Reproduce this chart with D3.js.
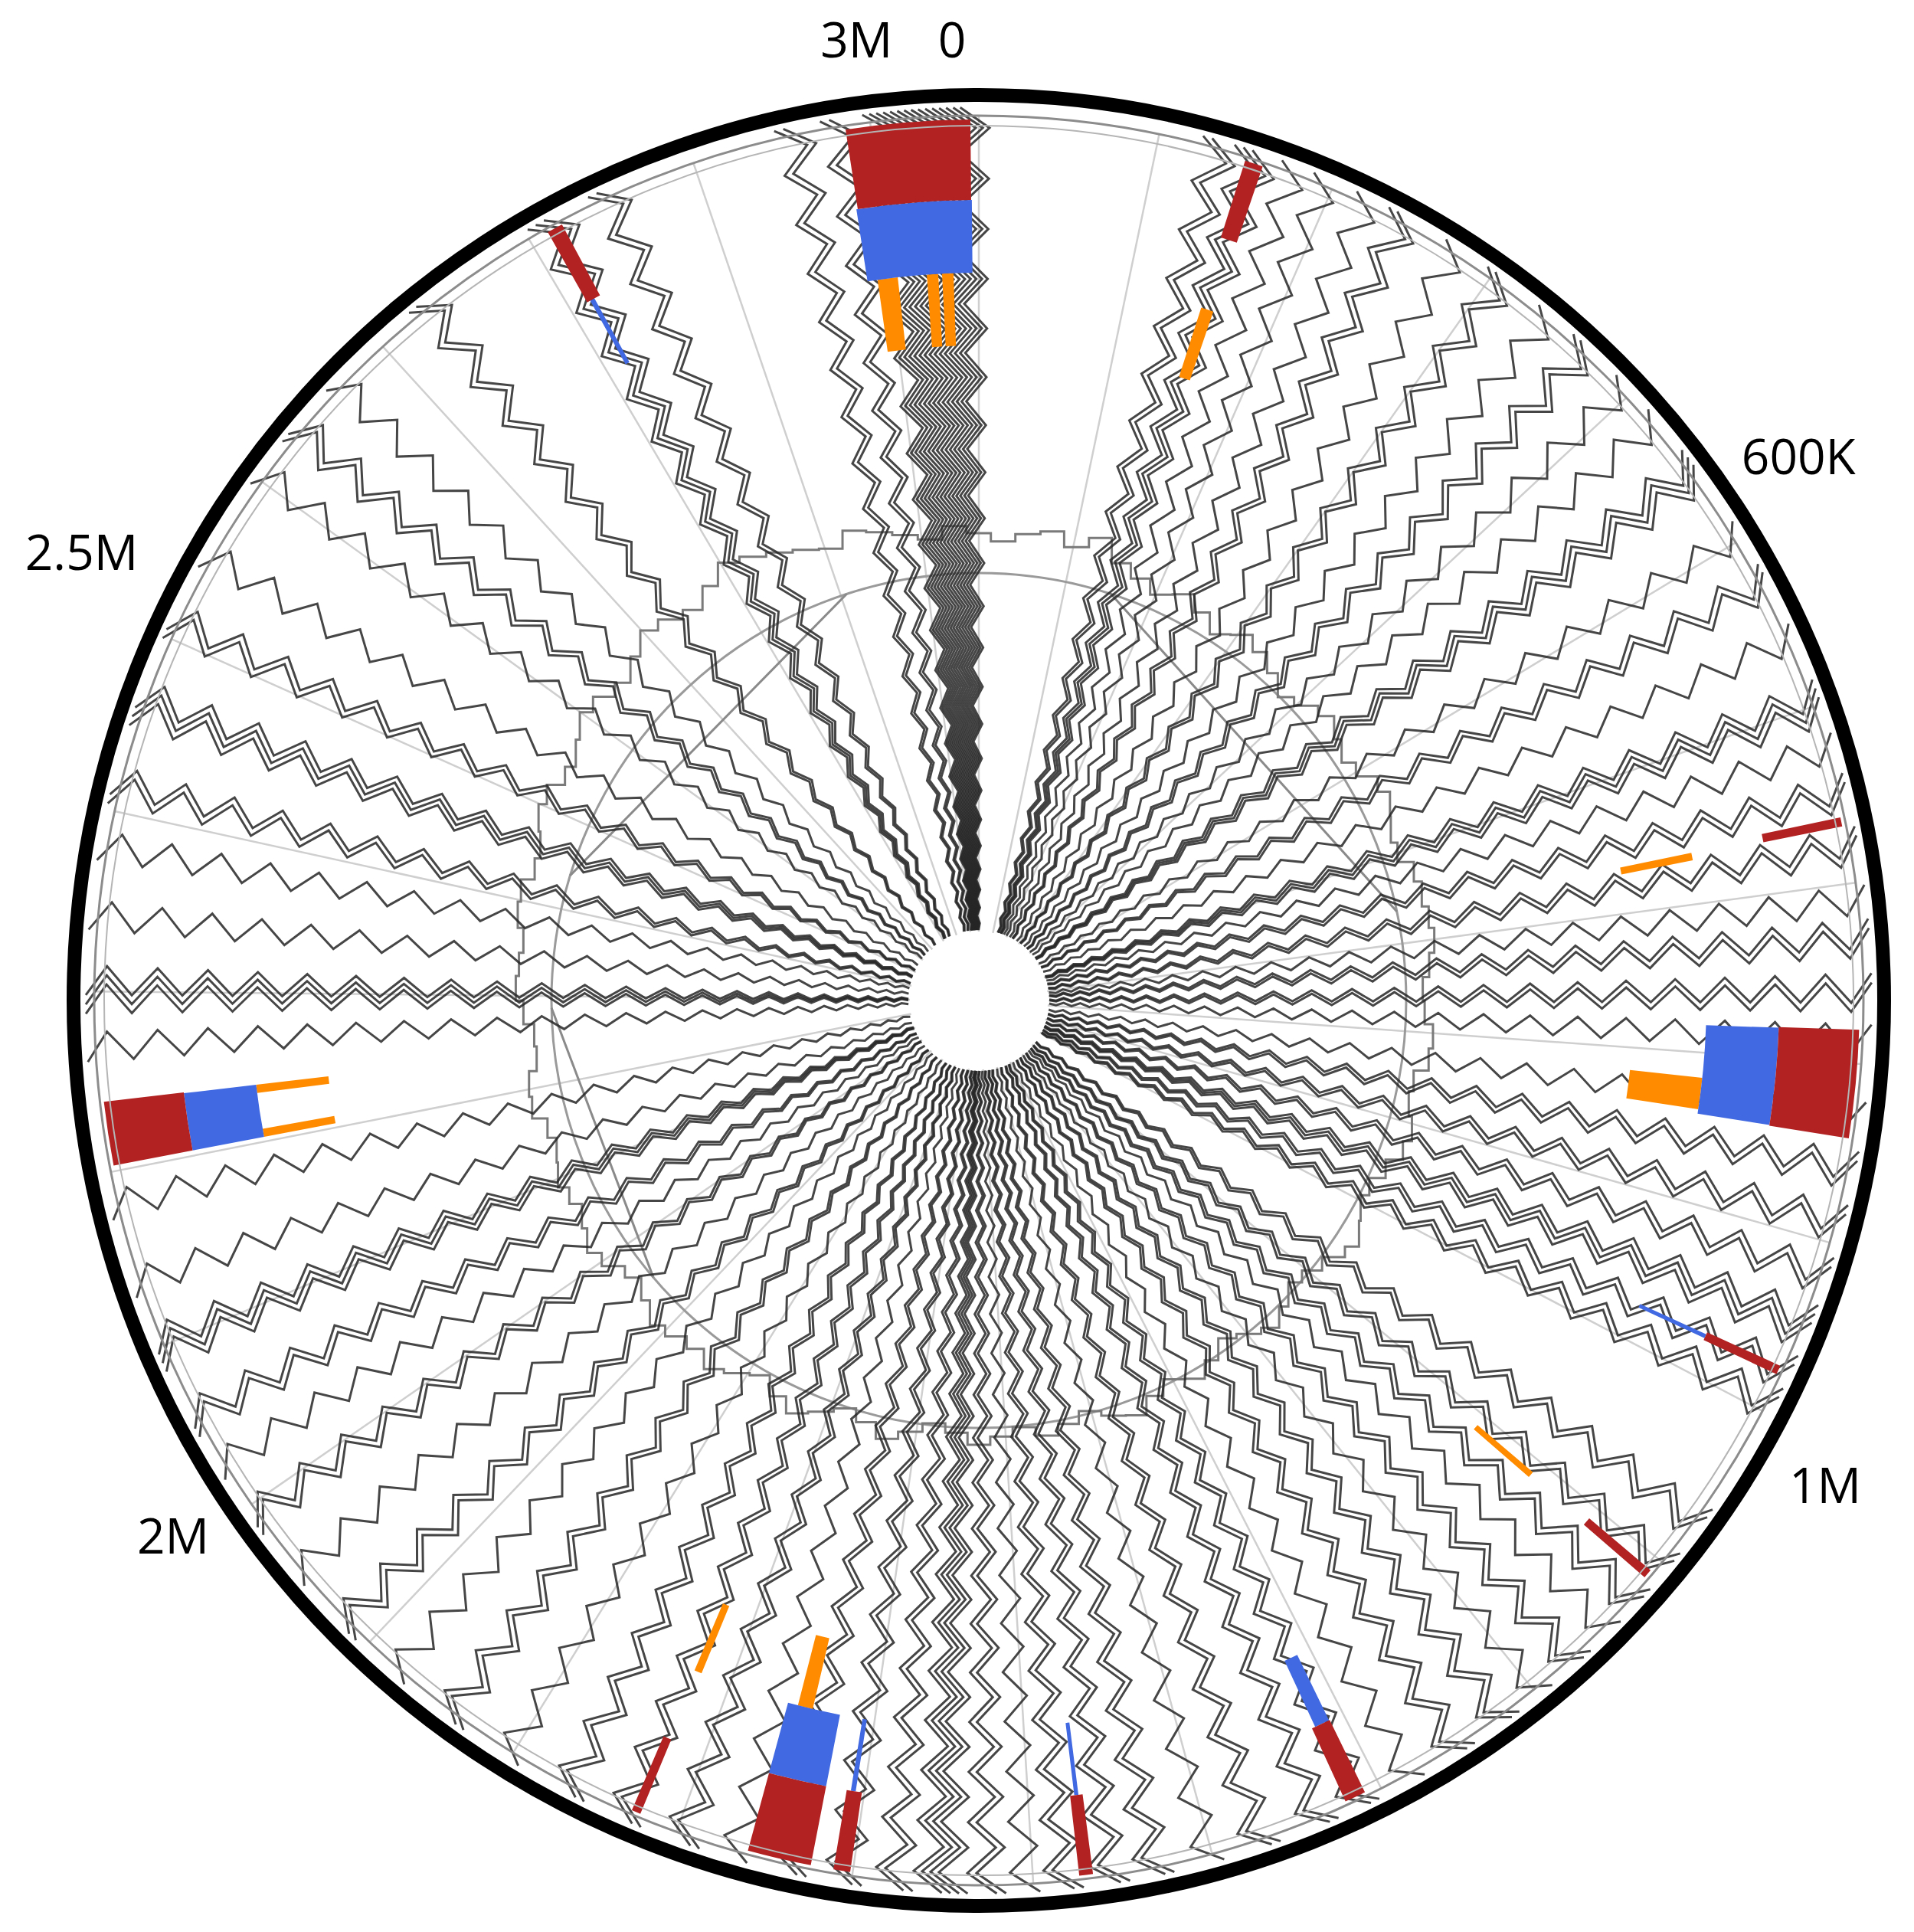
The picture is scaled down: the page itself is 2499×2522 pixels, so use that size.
<!DOCTYPE html>
<html>
<head>
<meta charset="utf-8">
<script src="https://cdn.jsdelivr.net/npm/d3@7"></script>
<style>
html, body { margin: 0; padding: 0; background: #ffffff; }
svg { display: block; }
</style>
</head>
<body>
<svg id="chart" width="2499" height="2522"></svg>
<script>
// ---------------- DATA (positions in kb around a 3.06 Mb circular genome) ----------------
const genomeLengthKb = 3060;

const tickLabels = ["0", "600K", "1M", "2M", "2.5M", "3M"];
const tickLabelPositionsKb = [-13.6, 479.4, 1018.0, 2010.0, 2521.0, 2998.4];

const gridTickKb = d3.range(0, 3001, 100);

// radial read-mapping lines (zig-zag tracks), position of each track in kb
const readLinePositionsKb = [
  3004.3, 3008.2, 3012.0, 3015.8, 3019.6, 3023.5, 3027.3, 3031.1, 3034.9, 3038.8,
  3042.6, 3046.4, 3050.2, 3054.1, 3057.9,
  2980.95, 2986.05, 2955.45, 2960.55,
  2847.5, 2852.6, 2810.1, 2815.2, 2820.3, 2731.05, 2736.15, 2669.0, 2632.45, 2637.55,
  2603.6, 2550.0, 2506.65, 2511.75, 2455.65, 2460.75, 2465.85, 2411.45, 2416.55, 2380.0,
  2341.8, 2295.85, 2300.95, 2306.05, 2269.5,
  2182.0, 2137.8, 2094.4, 2099.5, 2104.6, 2054.45, 2059.55, 2027.3, 1990.7, 1995.8,
  1955.0, 1914.2, 1919.3, 1878.5, 1837.7, 1842.8, 1802.0, 1761.2, 1766.3, 1727.2,
  1732.3, 1693.2, 1698.3, 1666.0, 1632.85, 1637.95, 1602.25, 1607.35, 1574.2, 1579.3,
  1544.2, 1548.9, 1553.6, 1558.3, 1523.2, 1528.3, 1504.5, 1480.7, 1485.8, 1455.2,
  1460.3, 1430.55, 1435.65, 1402.5, 1370.2, 1375.3, 1336.2, 1341.3, 1311.55, 1316.65,
  1283.5, 1251.2, 1256.3, 1221.45, 1226.55, 1198.5, 1170.45, 1175.55, 1147.5, 1123.7,
  1128.8, 1098.2, 1103.3, 1068.45, 1073.55,
  991.95, 997.05, 972.4, 977.5, 942.65, 947.75, 952.85, 915.45, 920.55, 885.7,
  890.8, 855.95, 861.05, 828.8, 786.3, 758.2, 763.3, 728.45, 733.55, 709.8,
  677.45, 682.55, 647.7, 652.8, 624.8, 594.15, 599.25, 604.35, 561.0, 524.45,
  529.55, 497.3, 449.65, 454.75, 459.85, 420.8, 395.3, 362.95, 368.05, 338.3,
  303.45, 308.55, 276.3, 240.55, 245.65, 221.0, 195.5, 176.8, 149.6, 154.7,
  159.8, 131.75, 136.85
];

// GC content (%) in consecutive windows
const gcWindowKb = 25.5;
const gcPercent = [
  35.5, 35.0, 35.6, 36.0, 35.25, 36.25, 35.0, 34.5, 34.0, 34.75,
  34.25, 33.5, 34.5, 34.25, 33.75, 33.0, 33.75, 34.5, 34.0, 33.5,
  34.25, 35.0, 34.5, 33.75, 34.25, 35.0, 34.5, 35.25, 34.75, 34.25,
  33.75, 34.5, 35.0, 34.25, 33.5, 34.25, 34.75, 34.0, 33.5, 33.0,
  33.75, 34.5, 33.5, 33.0, 32.5, 33.25, 33.75, 33.0, 32.25, 33.0,
  33.5, 32.75, 33.25, 34.0, 33.5, 32.75, 33.25, 33.75, 33.0, 33.5,
  34.0, 33.25, 32.75, 33.5, 34.25, 33.5, 33.0, 33.75, 34.5, 34.0,
  33.25, 34.0, 34.75, 34.25, 34.5, 35.0, 34.25, 33.75, 34.5, 35.25,
  34.75, 34.25, 35.0, 34.5, 34.0, 34.75, 35.25, 34.5, 33.75, 34.5,
  35.0, 35.5, 34.75, 35.25, 36.0, 35.5, 35.0, 35.75, 36.5, 36.0,
  35.5, 36.25, 37.0, 36.5, 36.0, 36.75, 37.5, 37.0, 36.5, 37.25,
  38.0, 37.5, 37.0, 36.5, 36.0, 36.75, 36.25, 35.75, 35.25, 36.0
];

// straight connector segments on the inner reference ring
const chordPairsKb = [[2439.5, 2907.0], [153.0, 663.0], [1951.6, 2286.5]];

// annotated features [start, end] in kb
const redFeaturesKb = [
  [2986.05, 3055.33], [149.6, 159.8], [2810.95, 2819.88], [663.0, 668.1],
  [781.15, 841.5], [973.25, 978.35], [1107.55, 1112.65], [1309.0, 1320.9],
  [1466.68, 1474.33], [1601.4, 1610.75], [1623.5, 1659.2], [1722.1, 1727.2],
  [2203.2, 2238.9]
];
const blueFeaturesKb = [
  [2985.2, 3055.75], [2813.08, 2816.05], [781.58, 841.08], [974.53, 977.08],
  [1309.43, 1318.78], [1469.23, 1471.78], [1605.23, 1608.2], [1623.5, 1659.2],
  [2203.2, 2238.48]
];
const orangeFeaturesKb = [
  [2992.0, 3005.6], [3025.15, 3032.8], [3035.35, 3043.0], [151.3, 159.8],
  [665.55, 670.65], [816.85, 838.1], [1108.4, 1112.65], [1642.2, 1652.4],
  [1720.4, 1725.5], [2232.95, 2238.48], [2203.2, 2208.73]
];

// ---------------- LAYOUT ----------------
const W = 2499, H = 2522, cx = 1278, cy = 1306;
const R = { hub: 90, inner: 558, gridOuter: 1155, gridOuter2: 1142, ring: 1182, zigStart: 92, zigEnd: 1166 };
const labelRadius = [1256, 1285, 1273, 1262, 1310, 1266];
const tracks = {
  red: [1045, 1150, "#B22222"],
  blue: [950, 1045, "#4169E1"],
  orange: [855, 950, "#FF8C00"]
};

const svg = d3.select("#chart");
svg.append("rect").attr("width", W).attr("height", H).attr("fill", "#ffffff");
const g = svg.append("g").attr("transform", `translate(${cx},${cy})`);

const angle = d3.scaleLinear().domain([0, genomeLengthKb]).range([0, 2 * Math.PI]);
const gcRadius = d3.scaleLinear().domain([30, 40]).range([500, 700]);
const px = (a, r) => r * Math.sin(a);
const py = (a, r) => -r * Math.cos(a);

// grid spokes
g.append("g").selectAll("line").data(gridTickKb).join("line")
  .attr("x1", d => px(angle(d), R.hub)).attr("y1", d => py(angle(d), R.hub))
  .attr("x2", d => px(angle(d), R.gridOuter)).attr("y2", d => py(angle(d), R.gridOuter))
  .attr("stroke", "#cfcfcf").attr("stroke-width", 2.5);

// inner reference ring
g.append("circle").attr("r", R.inner).attr("fill", "none").attr("stroke", "#9a9a9a").attr("stroke-width", 3);
g.append("g").selectAll("line").data(chordPairsKb).join("line")
  .attr("x1", d => px(angle(d[0]), R.inner)).attr("y1", d => py(angle(d[0]), R.inner))
  .attr("x2", d => px(angle(d[1]), R.inner)).attr("y2", d => py(angle(d[1]), R.inner))
  .attr("stroke", "#8a8a8a").attr("stroke-width", 3);

// GC content line
const gcPts = gcPercent.map((v, i) => [angle(i * gcWindowKb), gcRadius(v)]);
gcPts.push([angle(genomeLengthKb), gcRadius(gcPercent[0])]);
g.append("path")
  .attr("d", d3.lineRadial().angle(d => d[0]).radius(d => d[1]).curve(d3.curveStep)(gcPts))
  .attr("fill", "none").attr("stroke", "#7a7a7a").attr("stroke-width", 3);

// zig-zag read tracks
const zigRadii = [];
{ let r = R.zigStart; while (r < R.zigEnd) { zigRadii.push(r); r += 34 * (1 - Math.exp(-r / 300)); } zigRadii.push(R.zigEnd); }
const amp = 0.95 * Math.PI / 180;
const zigLine = d3.lineRadial().angle(d => d[0]).radius(d => d[1]);
g.append("g").selectAll("path").data(readLinePositionsKb).join("path")
  .attr("d", p => zigLine(zigRadii.map((rr, i) => [angle(p) + (i === 0 ? 0 : (i % 2 ? amp : -amp)), rr])))
  .attr("fill", "none").attr("stroke", "#262626").attr("stroke-opacity", 0.85)
  .attr("stroke-width", 3.0).attr("stroke-linejoin", "miter");

// feature tracks
function drawFeatures(data, track) {
  const [r0, r1, color] = track;
  const arc = d3.arc().innerRadius(r0).outerRadius(r1)
    .startAngle(d => angle(d[0])).endAngle(d => angle(d[1]));
  g.append("g").selectAll("path").data(data).join("path")
    .attr("d", arc).attr("fill", color);
}
drawFeatures(orangeFeaturesKb, tracks.orange);
drawFeatures(blueFeaturesKb, tracks.blue);
drawFeatures(redFeaturesKb, tracks.red);

// hub
g.append("circle").attr("r", R.hub).attr("fill", "#ffffff");

// outer rings
g.append("circle").attr("r", R.gridOuter2).attr("fill", "none").attr("stroke", "#b5b5b5").attr("stroke-width", 2);
g.append("circle").attr("r", R.gridOuter).attr("fill", "none").attr("stroke", "#8c8c8c").attr("stroke-width", 3);
g.append("circle").attr("r", R.ring).attr("fill", "none").attr("stroke", "#000000").attr("stroke-width", 18);

// labels
g.append("g").selectAll("text").data(tickLabels).join("text")
  .attr("x", (d, i) => px(angle(tickLabelPositionsKb[i]), labelRadius[i]))
  .attr("y", (d, i) => py(angle(tickLabelPositionsKb[i]), labelRadius[i]))
  .attr("text-anchor", "middle").attr("dominant-baseline", "central")
  .attr("font-family", "'Open Sans', sans-serif").attr("font-size", 64)
  .attr("fill", "#000").text(d => d);
</script>
</body>
</html>
